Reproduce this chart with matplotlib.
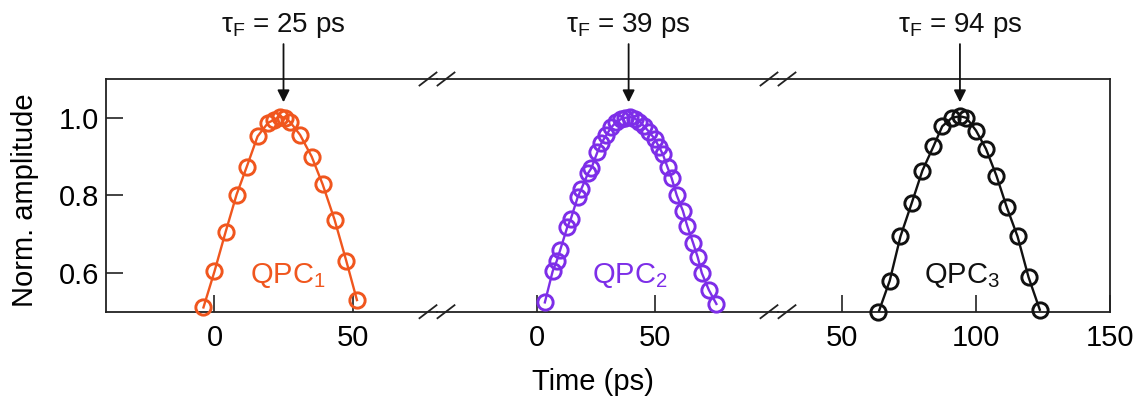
import matplotlib
matplotlib.use("Agg")
import matplotlib.pyplot as plt
from matplotlib.lines import Line2D

plt.rcParams['font.family'] = ['Liberation Sans', 'DejaVu Sans']
plt.rcParams['mathtext.fontset'] = 'custom'
plt.rcParams['mathtext.rm'] = 'Liberation Sans'
plt.rcParams['mathtext.it'] = 'Liberation Sans:italic'

# QPC1 (orange)
t1 = [-4, 0, 4, 8, 11.7, 15.6, 19.4, 21.6, 23.6, 25.6, 27.4, 31.0, 35.2, 39.2, 43.5, 47.7, 51.6]
a1 = [0.511, 0.604, 0.705, 0.802, 0.874, 0.952, 0.987, 0.995, 1.003, 1.0, 0.989, 0.956, 0.900, 0.828, 0.737, 0.632, 0.530]
# QPC2 (purple)
t2 = [3.5, 6.8, 8.5, 10.0, 13.0, 14.5, 17.4, 19.0, 21.8, 23.2, 25.8, 27.5, 29.6, 31.6, 33.6, 35.6,
      37.6, 39.6, 41.6, 43.6, 45.6, 47.6, 50.0, 52.0, 53.5, 55.5, 57.2, 59.4, 62.0, 63.8, 66.4, 68.3, 70.0, 73.0, 76.2]
a2 = [0.524, 0.604, 0.630, 0.659, 0.718, 0.739, 0.795, 0.817, 0.857, 0.870, 0.912, 0.935, 0.956, 0.975, 0.988, 0.996,
      1.0, 1.002, 0.998, 0.990, 0.978, 0.964, 0.946, 0.924, 0.906, 0.872, 0.845, 0.800, 0.760, 0.722, 0.676, 0.640, 0.600, 0.556, 0.520]
# QPC3 (black)
t3 = [63.6, 67.8, 71.8, 76.0, 80.0, 84.1, 87.4, 91.0, 94.0, 96.4, 100.0, 103.7, 107.6, 111.5, 115.5, 119.6, 123.8]
a3 = [0.498, 0.580, 0.694, 0.780, 0.864, 0.926, 0.978, 1.0, 1.004, 1.0, 0.967, 0.920, 0.851, 0.769, 0.694, 0.589, 0.505]

peaks = [25, 39, 94]
peak_labels = [r'τ$_\mathrm{F}$ = 25 ps', r'τ$_\mathrm{F}$ = 39 ps', r'τ$_\mathrm{F}$ = 94 ps']
qpc_labels = [r'QPC$_1$', r'QPC$_2$', r'QPC$_3$']
qpc_x = [26.6, 39.5, 94.7]
colors = ['#F0561E', '#7D2EE8', '#111111']
xlims = [(-39.3, 80.6), (-42.2, 102.3), (26.1, 150)]
xticks = [[0, 50], [0, 50], [50, 100, 150]]

W, H = 1138, 403
fig = plt.figure(figsize=(W / 100, H / 100), dpi=100)

bounds = [106, 437, 778, 1110]
top_px, bot_px = 79, 311.7
axes = []
for i in range(3):
    ax = fig.add_axes([bounds[i] / W, 1 - bot_px / H, (bounds[i + 1] - bounds[i]) / W, (bot_px - top_px) / H])
    axes.append(ax)

series = [(t1, a1), (t2, a2), (t3, a3)]
for i, ax in enumerate(axes):
    t, a = series[i]
    ax.plot(t, a, '-', color=colors[i], lw=1.7, zorder=2, clip_on=True)
    ax.plot(t, a, 'o', mfc='none', mec=colors[i], ms=11, mew=2.1, zorder=3, clip_on=False)
    ax.set_xlim(*xlims[i])
    ax.set_ylim(0.5, 1.1)
    ax.set_xticks(xticks[i])
    ax.tick_params(axis='both', direction='in', length=12, width=1.2, labelsize=21, pad=9, color='#222222')
    ax.tick_params(axis='y', pad=5)
    for s in ax.spines.values():
        s.set_linewidth(1.3)
        s.set_color('#222222')
    if i > 0:
        ax.spines['left'].set_visible(False)
        ax.tick_params(axis='y', left=False, labelleft=False)
    if i < 2:
        ax.spines['right'].set_visible(False)
    ax.set_yticks([0.6, 0.8, 1.0] if i == 0 else [])
    ax.patch.set_alpha(0)

    ax.text(qpc_x[i], 0.574, qpc_labels[i], color=colors[i], fontsize=21, ha='center', va='baseline')
    ax.annotate('', xy=(peaks[i], 1.04), xytext=(peaks[i], 1.19), xycoords='data',
                arrowprops=dict(arrowstyle='-|>', color='#111111', lw=1.3, mutation_scale=18, shrinkA=0, shrinkB=0),
                annotation_clip=False)
    ax.text(peaks[i], 1.222, peak_labels[i], fontsize=20, ha='center', va='baseline', color='#111111')

axes[0].set_yticklabels(['0.6', '0.8', '1.0'])

# break marks on top and bottom spines
for bx in bounds[1:3]:
    for yy in (top_px, bot_px):
        for off in (-9, 9):
            cx = bx + off
            fig.add_artist(Line2D([(cx - 8.5) / W, (cx + 8.5) / W],
                                  [1 - (yy + 6.5) / H, 1 - (yy - 6.5) / H],
                                  color='#222222', lw=1.3))

fig.text(593 / W, 1 - 390 / H, 'Time (ps)', fontsize=21, ha='center', va='baseline')
fig.text(25 / W, 1 - 200 / H, 'Norm. amplitude', fontsize=21, ha='center', va='center', rotation=90)

fig.savefig('out.png', dpi=100)
